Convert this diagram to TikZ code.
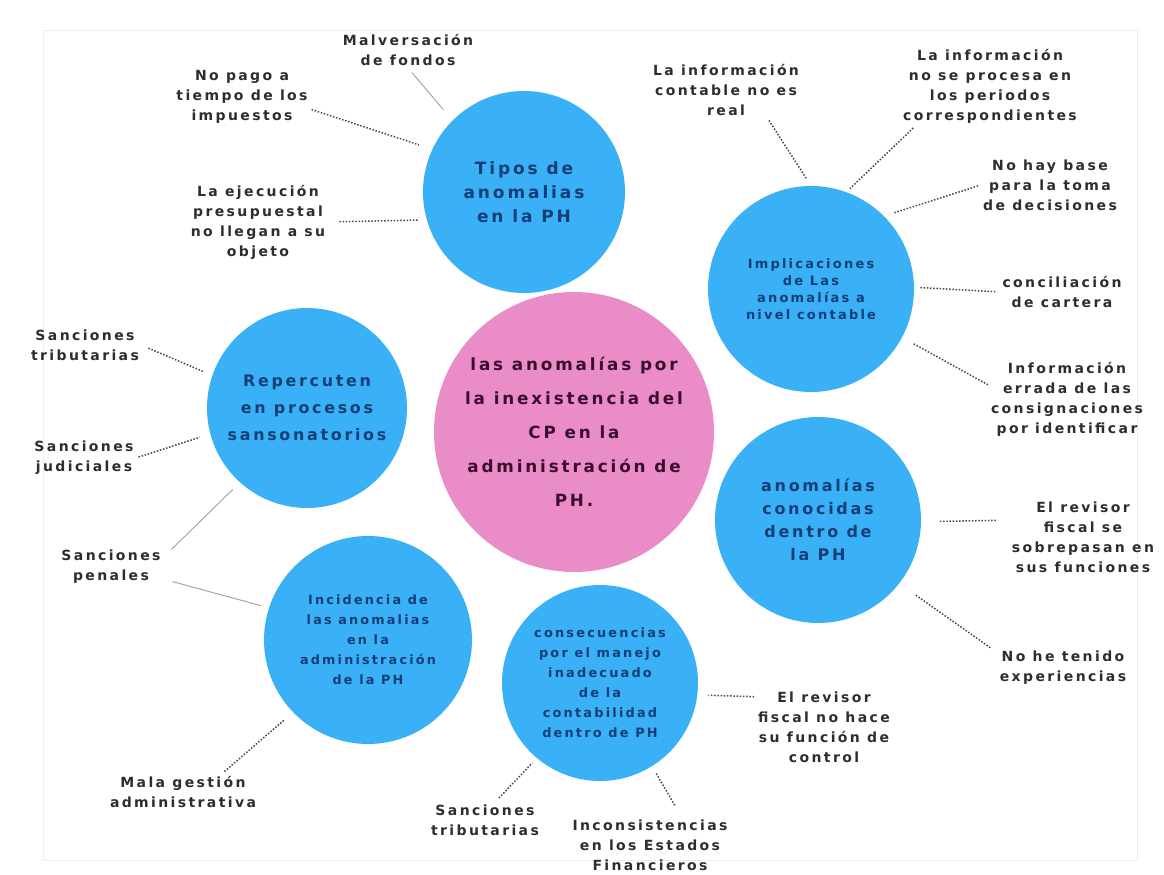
\documentclass[tikz,border=0pt]{standalone}
\usepackage{fontspec}
\setmainfont{DejaVu Sans}[LetterSpace=17]
\usepackage{tikz}
\usetikzlibrary{
  positioning,
  calc
}
\definecolor{BubbleBlue}{RGB}{58,176,246}
\definecolor{BubbleInk}{RGB}{20,62,118}
\definecolor{CorePink}{RGB}{234,140,200}
\definecolor{CoreInk}{RGB}{60,12,44}
\definecolor{NoteInk}{RGB}{45,45,45}
\definecolor{LinkGray}{RGB}{70,70,70}
\tikzset{
  bubble/.style={
    circle,
    fill=BubbleBlue,
    inner sep=0pt,
    align=center,
    text=BubbleInk
  },
  core/.style={
    circle,
    fill=CorePink,
    inner sep=0pt,
    align=center,
    text=CoreInk,
    font=\bfseries\fontsize{16.8}{34}\selectfont
  },
  note/.style={
    align=center,
    text=NoteInk,
    inner sep=2pt,
    font=\bfseries\fontsize{14}{20}\selectfont
  },
  dotlink/.style={draw=LinkGray,line width=1.5pt,dash pattern=on 1.5pt off 1.7pt},
  plainlink/.style={draw=gray!75,line width=0.9pt}
}

\begin{document}
\begin{tikzpicture}[x=1pt,y=-1pt]
  \useasboundingbox (0,0) rectangle (1164,875);
  \draw[black!7] (43,30) rectangle (1137,860);

  % circles
  \node[core, minimum size=280pt] (centro) at (574,432)
    {las anomalías por\\la inexistencia del\\CP en la\\administración de\\PH.};
  \node[bubble, minimum size=202pt, font=\bfseries\fontsize{17}{24}\selectfont] (tipos) at (524,192)
    {Tipos de\\anomalias\\en la PH};
  \node[bubble, minimum size=206pt, font=\bfseries\fontsize{13}{17}\selectfont] (implic) at (811,289)
    {Implicaciones\\de Las\\anomalías a\\nivel contable};
  \node[bubble, minimum size=200pt, font=\bfseries\fontsize{15.9}{27}\selectfont] (reperc) at (307,408)
    {Repercuten\\en procesos\\sansonatorios};
  \node[bubble, minimum size=206pt, font=\bfseries\fontsize{16}{23}\selectfont] (conoc) at (818,520)
    {anomalías\\conocidas\\dentro de\\la PH};
  \node[bubble, minimum size=208pt, font=\bfseries\fontsize{12.8}{20}\selectfont] (incid) at (368,640)
    {Incidencia de\\las anomalias\\en la\\administración\\de la PH};
  \node[bubble, minimum size=196pt, font=\bfseries\fontsize{12.9}{20}\selectfont] (consec) at (600,683)
    {consecuencias\\por el manejo\\inadecuado\\de la\\contabilidad\\dentro de PH};

  % notes
  \node[note] (malv) at (408,50) {Malversación\\de fondos};
  \node[note] (npago) at (242,97) {No pago a\\tiempo de los\\impuestos};
  \node[note] (ejec) at (258,222) {La ejecución\\presupuestal\\no llegan a su\\objeto};
  \node[note] (real) at (726,90) {La información\\contable no es\\real};
  \node[note] (period) at (990,86) {La información\\no se procesa en\\los periodos\\correspondientes};
  \node[note] (decis) at (1050,185) {No hay base\\para la toma\\de decisiones};
  \node[note] (cartera) at (1062,292) {conciliación\\de cartera};
  \node[note] (errada) at (1067,399) {Información\\errada de las\\consignaciones\\por identificar};
  \node[note] (strib) at (85,345) {Sanciones\\tributarias};
  \node[note] (sjud) at (84,458) {Sanciones\\judiciales};
  \node[note] (spen) at (111,567) {Sanciones\\penales};
  \node[note] (mala) at (183,792) {Mala gestión\\administrativa};
  \node[note] (strib2) at (485,820) {Sanciones\\tributarias};
  \node[note] (incons) at (650,845) {Inconsistencias\\en los Estados\\Financieros};
  \node[note] (fiscal) at (824,727) {El revisor\\fiscal no hace\\su función de\\control};
  \node[note] (sobrep) at (1083,537) {El revisor\\fiscal se\\sobrepasan en\\sus funciones};
  \node[note] (exper) at (1063,668) {No he tenido\\experiencias};

  % links
  \draw[plainlink, shorten <=6pt, shorten >=14pt] (malv.south) -- (tipos.135);
  \draw[dotlink, shorten <=2pt, shorten >=14pt] (npago.-10) -- (tipos.155);
  \draw[dotlink, shorten <=12pt, shorten >=9pt] (ejec.east) -- (tipos.196);

  \draw[dotlink, shorten <=3pt, shorten >=8pt] (real.-34) -- (implic.90);
  \draw[dotlink, shorten <=4pt, shorten >=5pt] (period.208) -- (implic.70);
  \draw[dotlink, shorten <=3pt, shorten >=11pt] (decis.west) -- (implic.45);
  \draw[dotlink, shorten <=5pt, shorten >=6pt] (cartera.west) -- (implic.1);
  \draw[dotlink, shorten <=1pt, shorten >=12pt] (errada.170) -- (implic.-28);

  \draw[dotlink, shorten <=8pt, shorten >=10pt] (strib.east) -- (reperc.161);
  \draw[dotlink, shorten <=3pt, shorten >=11pt] (sjud.east) -- (reperc.195);
  \draw[plainlink, shorten <=12pt, shorten >=10pt] (spen.10) -- (reperc.228);

  \draw[plainlink, shorten <=10pt, shorten >=8pt] (spen.-13) -- (incid.162);
  \draw[dotlink, shorten <=4pt, shorten >=11pt] (mala.25) -- (incid.224);

  \draw[dotlink, shorten <=6pt, shorten >=7pt] (strib2.61) -- (consec.230);
  \draw[dotlink, shorten <=14pt, shorten >=7pt] (incons.41) -- (consec.302);
  \draw[dotlink, shorten <=2pt, shorten >=11pt] (fiscal.156) -- (consec.-7);

  \draw[dotlink, shorten <=14pt, shorten >=17pt] (sobrep.167) -- (conoc.-1);
  \draw[dotlink, shorten <=9pt, shorten >=20pt] (exper.167) -- (conoc.-38);
\end{tikzpicture}
\end{document}
